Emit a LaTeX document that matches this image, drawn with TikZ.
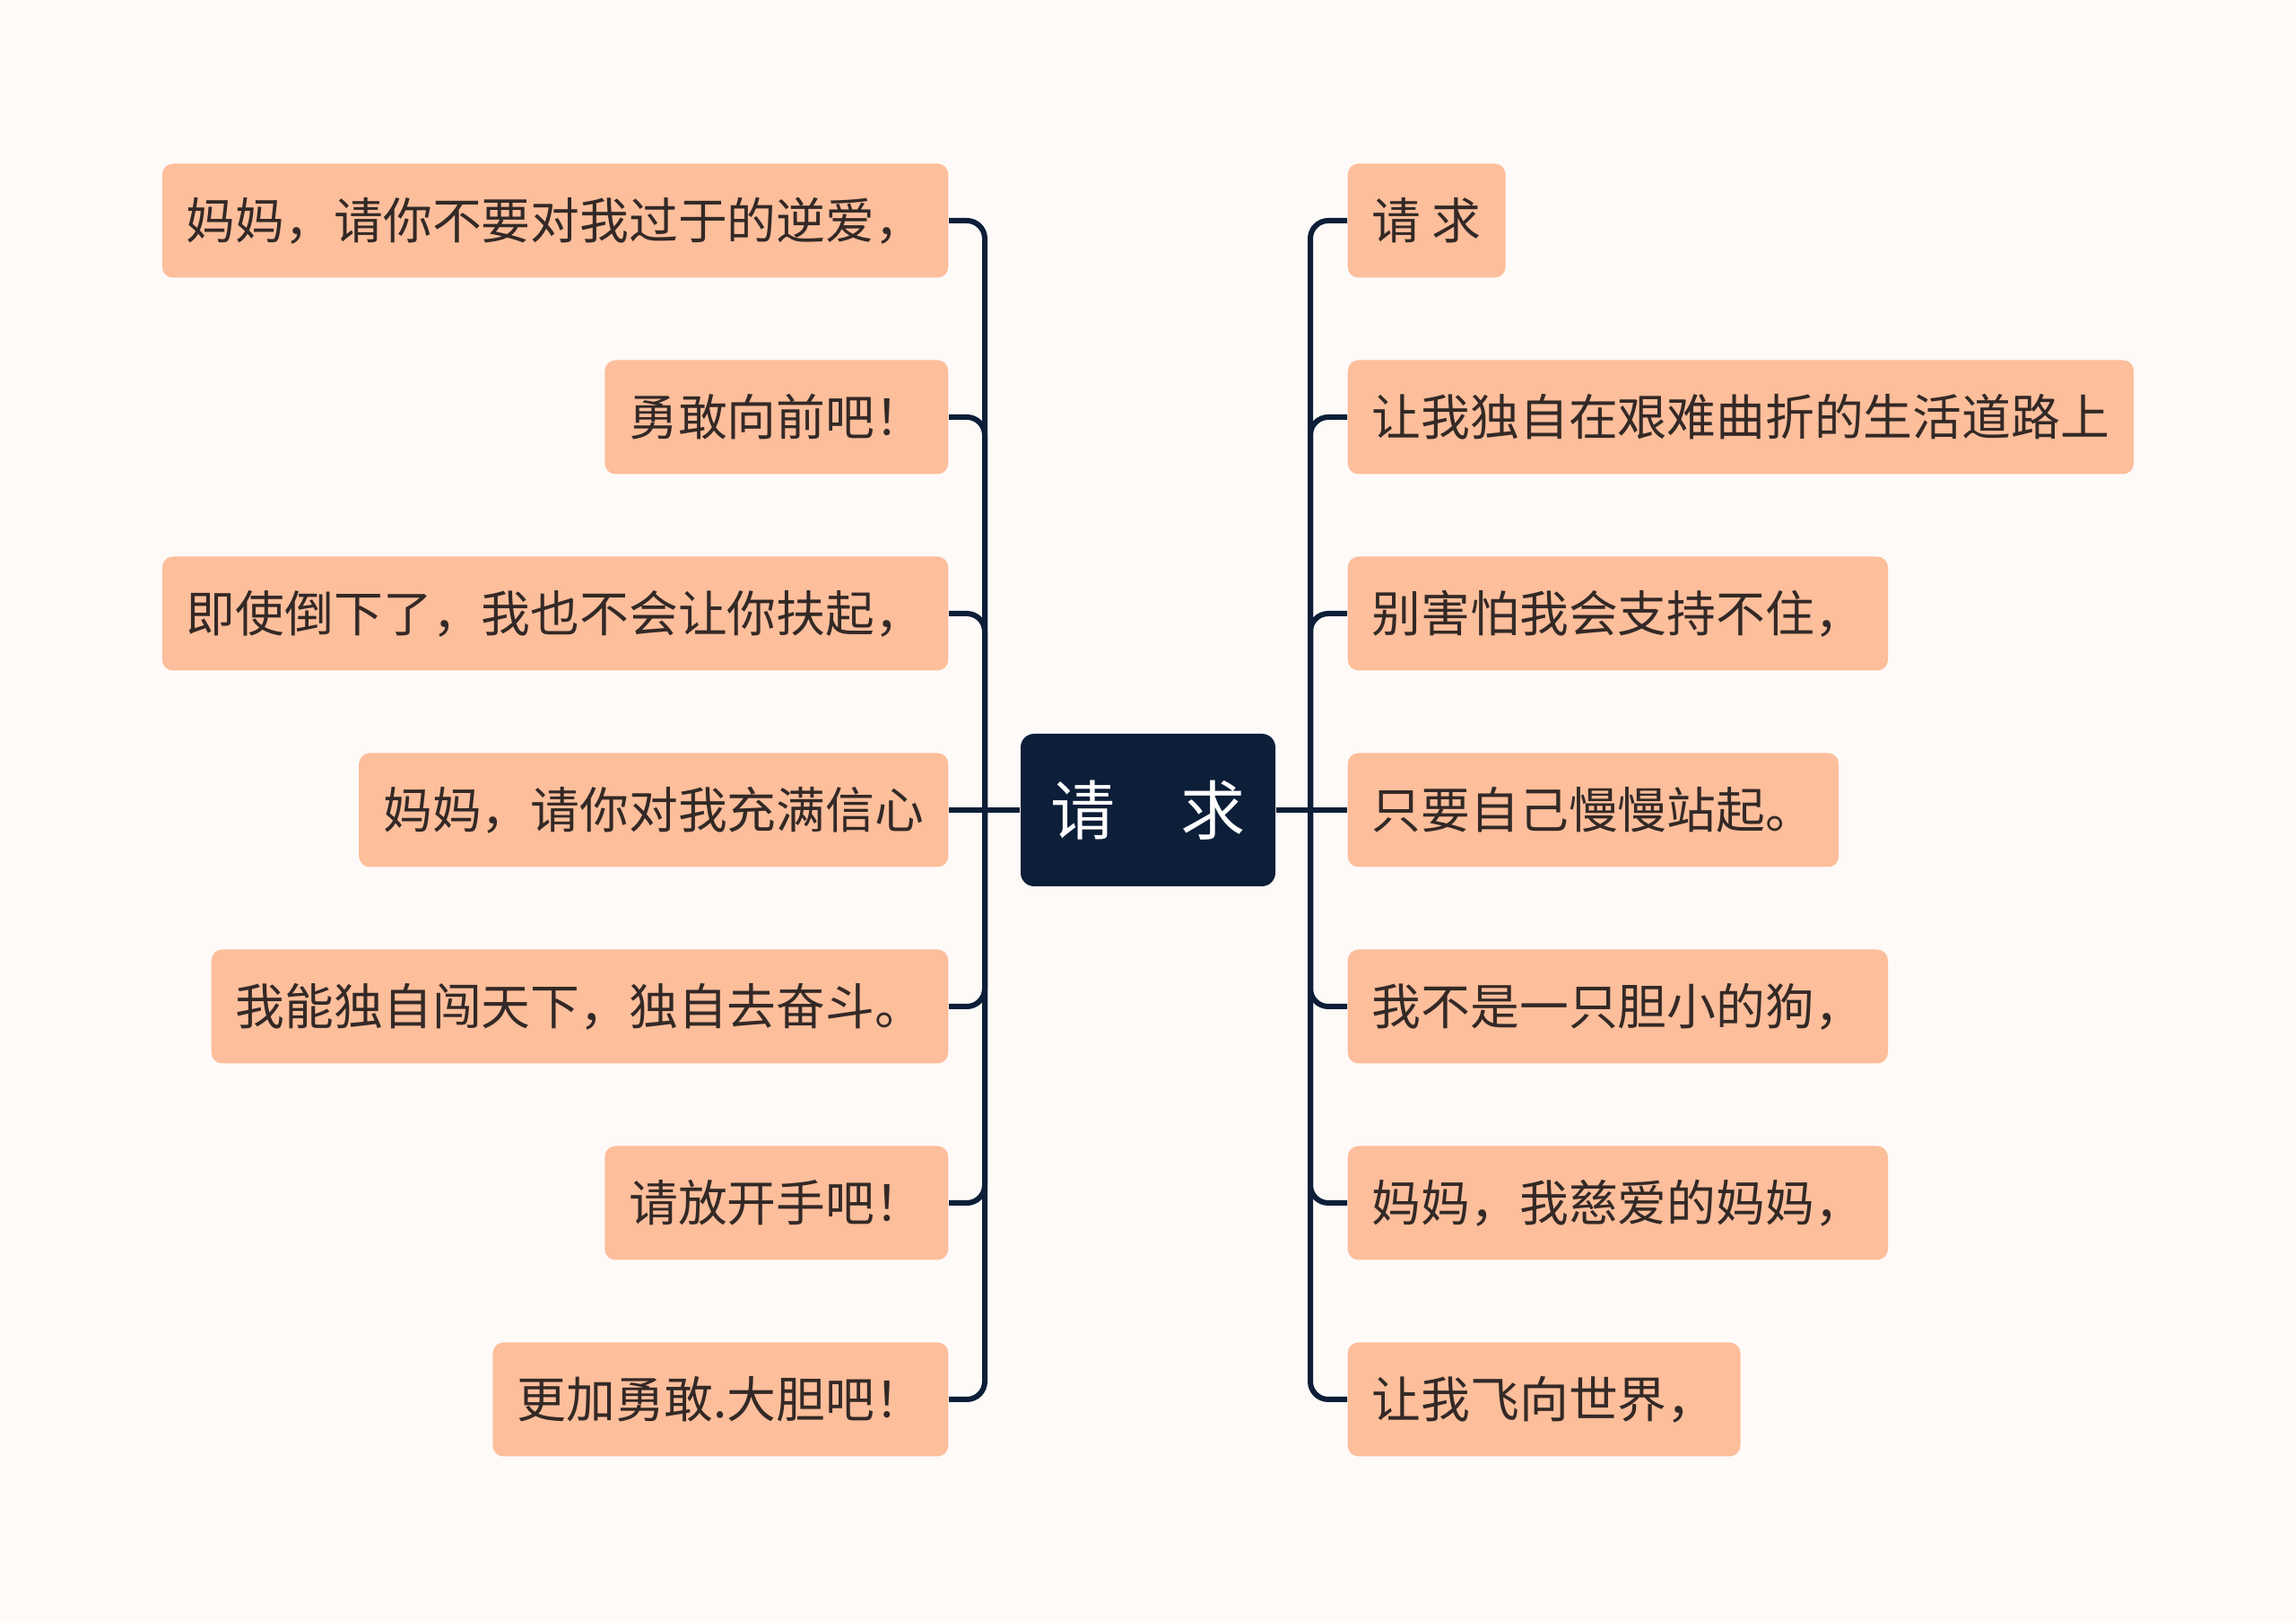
\documentclass[tikz,border=0pt]{standalone}
\usepackage{fontspec}
\newfontfamily\cjk{Noto Sans CJK SC}
\usepackage{xcolor}
\usetikzlibrary{positioning,calc}
\definecolor{bgcol}{RGB}{254,250,248}
\definecolor{leafcol}{RGB}{253,190,155}
\definecolor{rootcol}{RGB}{12,30,56}
\definecolor{txtcol}{RGB}{51,41,38}
\tikzset{
  % central topic
  rootbox/.style={rectangle, rounded corners=1.5mm, fill=rootcol, text=white, minimum width=28.4mm,
                  minimum height=17mm, inner sep=0pt, font=\cjk\fontsize{20.5pt}{24pt}\selectfont},
  % leaf topic
  leafbox/.style={rectangle, rounded corners=1.2mm, fill=leafcol, text=txtcol, minimum height=12.7mm,
                  inner xsep=2.7mm, inner ysep=0pt, font=\cjk\fontsize{15.6pt}{18pt}\selectfont},
  % left and right leaves
  lleaf/.style={leafbox, anchor=east},
  rleaf/.style={leafbox, anchor=west},
  % connector
  branch/.style={draw=rootcol, line width=0.6mm, rounded corners=2mm},
}

\begin{document}
\begin{tikzpicture}
  % page and background
  \fill[bgcol] (0,0) rectangle (25.60,18.07);
  \useasboundingbox (0,0) rectangle (25.60,18.07);
  % central topic
  \node[rootbox] (root) at (12.80,9.04) {请　求};
  \coordinate (lj) at (10.98,9.04);
  \coordinate (rj) at (14.61,9.04);
  % left leaves
  \node[lleaf] (l1) at (10.58,15.61) {妈妈，请你不要对我过于的逆爱，};
  \node[lleaf] (l2) at (10.58,13.42) {勇敢向前吧！};
  \node[lleaf] (l3) at (10.58,11.23) {即使倒下了，我也不会让你扶起，};
  \node[lleaf] (l4) at (10.58,9.04) {妈妈，请你对我充满信心};
  \node[lleaf] (l5) at (10.58,6.85) {我能独自闯天下，独自去奋斗。};
  \node[lleaf] (l6) at (10.58,4.66) {请放开手吧！};
  \node[lleaf] (l7) at (10.58,2.47) {更加勇敢.大胆吧！};
  % right leaves
  \node[rleaf] (r1) at (15.02,15.61) {请 求};
  \node[rleaf] (r2) at (15.02,13.42) {让我独自在艰难曲折的生活道路上};
  \node[rleaf] (r3) at (15.02,11.23) {别害怕我会支持不住，};
  \node[rleaf] (r4) at (15.02,9.04) {只要自己慢慢站起。};
  \node[rleaf] (r5) at (15.02,6.85) {我不是一只胆小的狗，};
  \node[rleaf] (r6) at (15.02,4.66) {妈妈，我慈爱的妈妈，};
  \node[rleaf] (r7) at (15.02,2.47) {让我飞向世界，};
  % connectors
  \draw[branch] (root.west) -- (lj);
  \draw[branch] (root.east) -- (rj);
  \draw[branch] (lj) |- (l1.east);
  \draw[branch] (lj) |- (l2.east);
  \draw[branch] (lj) |- (l3.east);
  \draw[branch] (lj) -- (l4.east);
  \draw[branch] (lj) |- (l5.east);
  \draw[branch] (lj) |- (l6.east);
  \draw[branch] (lj) |- (l7.east);
  \draw[branch] (rj) |- (r1.west);
  \draw[branch] (rj) |- (r2.west);
  \draw[branch] (rj) |- (r3.west);
  \draw[branch] (rj) -- (r4.west);
  \draw[branch] (rj) |- (r5.west);
  \draw[branch] (rj) |- (r6.west);
  \draw[branch] (rj) |- (r7.west);
\end{tikzpicture}
\end{document}
